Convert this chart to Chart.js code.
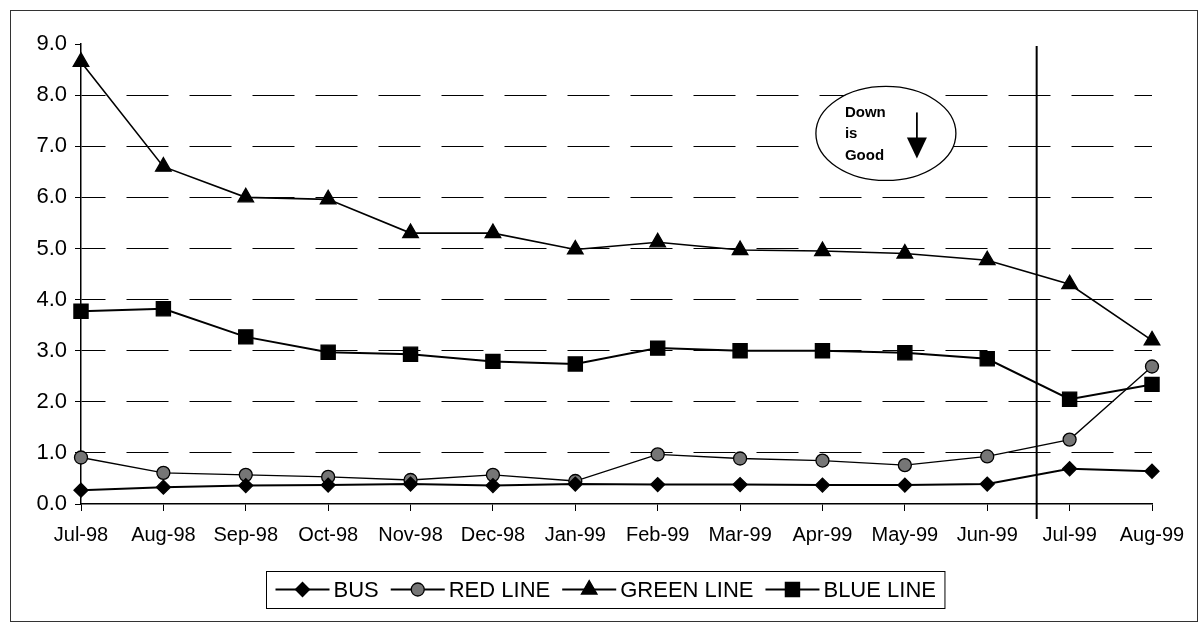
<!DOCTYPE html>
<html>
<head>
<meta charset="utf-8">
<title>Monthly rate by line, Jul-98 to Aug-99</title>
<script src="https://cdn.jsdelivr.net/npm/chart.js@4.4.1/dist/chart.umd.min.js"></script>
<style>
  html, body { margin: 0; padding: 0; background: #fff; }
  #wrap { position: relative; width: 1203px; height: 630px; overflow: hidden; }
  #frame { position: absolute; left: 10px; top: 10px; width: 1188px; height: 612px;
           border: 1px solid #333; box-sizing: border-box; }
  #chart { position: absolute; left: 0; top: 0; }
</style>
</head>
<body>
<div id="wrap">
  <div id="frame"></div>
  <canvas id="chart" width="1203" height="630"></canvas>
</div>
<script>
// Months on the x axis
const categories = ['Jul-98', 'Aug-98', 'Sep-98', 'Oct-98', 'Nov-98', 'Dec-98', 'Jan-99',
                    'Feb-99', 'Mar-99', 'Apr-99', 'May-99', 'Jun-99', 'Jul-99', 'Aug-99'];

// Series values, one per month
const busValues       = [0.27, 0.33, 0.36, 0.37, 0.39, 0.36, 0.39, 0.38, 0.38, 0.37, 0.37, 0.39, 0.69, 0.64];
const redLineValues   = [0.91, 0.61, 0.57, 0.53, 0.47, 0.57, 0.45, 0.97, 0.89, 0.85, 0.76, 0.93, 1.26, 2.69];
const greenLineValues = [8.65, 6.60, 6.00, 5.96, 5.30, 5.30, 4.98, 5.12, 4.97, 4.95, 4.90, 4.77, 4.30, 3.20];
const blueLineValues  = [3.77, 3.82, 3.27, 2.97, 2.93, 2.79, 2.74, 3.05, 3.00, 3.00, 2.96, 2.84, 2.05, 2.34];

// Value axis
const yTickValues = [0, 1, 2, 3, 4, 5, 6, 7, 8, 9];

// Divider between Jun-99 and Jul-99 (category position)
const splitAt = 11.6;
// "Down is Good" note, anchored in axis units
const noteAt = { index: 9.77, value: 7.25 };
const noteLines = ['Down', 'is', 'Good'];

const FONT = "'Liberation Sans', Arial, Helvetica, sans-serif";
Chart.defaults.font.family = FONT;
Chart.defaults.color = '#000';

const yMin = yTickValues[0];
const yMax = yTickValues[yTickValues.length - 1];

// Vertical divider line
const dividerPlugin = {
  id: 'divider',
  afterDatasetsDraw(chart) {
    const { ctx, scales: { x, y } } = chart;
    const px = x.getPixelForValue(splitAt);
    ctx.save();
    ctx.strokeStyle = '#000';
    ctx.lineWidth = 2;
    ctx.beginPath();
    ctx.moveTo(px, y.getPixelForValue(yMax) + 2);
    ctx.lineTo(px, y.bottom + 15);
    ctx.stroke();
    ctx.restore();
  }
};

// Oval callout with a down arrow
const notePlugin = {
  id: 'note',
  afterDatasetsDraw(chart) {
    const { ctx, scales: { x, y } } = chart;
    const cx = x.getPixelForValue(noteAt.index);
    const cy = y.getPixelForValue(noteAt.value);
    ctx.save();
    ctx.beginPath();
    ctx.ellipse(cx, cy, 70, 47, 0, 0, Math.PI * 2);
    ctx.fillStyle = '#fff';
    ctx.fill();
    ctx.lineWidth = 1.3;
    ctx.strokeStyle = '#000';
    ctx.stroke();

    ctx.fillStyle = '#000';
    ctx.font = 'bold 15px ' + FONT;
    ctx.textAlign = 'left';
    ctx.textBaseline = 'middle';
    noteLines.forEach((t, i) => ctx.fillText(t, cx - 41, cy - 21 + i * 21.5));

    // arrow
    const ax = cx + 31;
    ctx.lineWidth = 1.8;
    ctx.beginPath();
    ctx.moveTo(ax, cy - 21);
    ctx.lineTo(ax, cy + 6);
    ctx.stroke();
    ctx.beginPath();
    ctx.moveTo(ax - 10, cy + 4);
    ctx.lineTo(ax + 10, cy + 4);
    ctx.lineTo(ax, cy + 25);
    ctx.closePath();
    ctx.fill();
    ctx.restore();
  }
};

// Boxed legend drawn beneath the axis: line sample with marker, then label
const boxLegendPlugin = {
  id: 'boxLegend',
  afterDraw(chart) {
    const { ctx } = chart;
    const sets = chart.data.datasets;
    const symW = 54, symGap = 4, itemGap = 12, pad = 9;
    ctx.save();
    ctx.font = '22px ' + FONT;
    const widths = sets.map(ds => ctx.measureText(ds.label).width);
    let total = pad * 2 + (sets.length - 1) * itemGap;
    widths.forEach(w => { total += symW + symGap + w; });
    const boxTop = 571, boxH = 37;
    const left = Math.round(605 - total / 2) + 0.5;
    ctx.fillStyle = '#fff';
    ctx.fillRect(left, boxTop, total, boxH);
    ctx.strokeStyle = '#000';
    ctx.lineWidth = 1;
    ctx.strokeRect(left, boxTop + 0.5, total, boxH);

    const cy = boxTop + boxH / 2;
    let cursor = left + pad;
    sets.forEach((ds, i) => {
      ctx.strokeStyle = ds.borderColor;
      ctx.lineWidth = 2;
      ctx.beginPath();
      ctx.moveTo(cursor, cy);
      ctx.lineTo(cursor + symW, cy);
      ctx.stroke();
      ctx.fillStyle = ds.pointBackgroundColor;
      ctx.strokeStyle = ds.pointBorderColor;
      ctx.lineWidth = ds.pointBorderWidth;
      Chart.helpers.drawPoint(ctx, {
        pointStyle: ds.pointStyle, radius: ds.pointRadius, rotation: 0, borderWidth: ds.pointBorderWidth
      }, cursor + symW / 2, cy);
      cursor += symW + symGap;
      ctx.fillStyle = '#000';
      ctx.textAlign = 'left';
      ctx.textBaseline = 'middle';
      ctx.fillText(ds.label, cursor, cy + 1);
      cursor += widths[i] + itemGap;
    });
    ctx.restore();
  }
};

function lineSeries(label, data, style, radius, width, fill) {
  return {
    label, data,
    borderColor: '#000',
    borderWidth: width,
    pointStyle: style,
    pointRadius: radius,
    pointHoverRadius: radius,
    pointBackgroundColor: fill || '#000',
    pointBorderColor: '#000',
    pointBorderWidth: 1.3,
    tension: 0,
    fill: false,
    clip: false
  };
}

new Chart(document.getElementById('chart'), {
  type: 'line',
  data: {
    labels: categories,
    datasets: [
      lineSeries('BUS', busValues, 'rectRot', 7, 2),
      lineSeries('RED LINE', redLineValues, 'circle', 6.5, 1.3, '#767676'),
      lineSeries('GREEN LINE', greenLineValues, 'triangle', 9, 1.6),
      lineSeries('BLUE LINE', blueLineValues, 'rect', 10, 2)
    ]
  },
  options: {
    responsive: false,
    animation: false,
    events: [],
    layout: { padding: { left: 0, right: 51, top: 44, bottom: 76 } },
    plugins: { legend: { display: false }, tooltip: { enabled: false } },
    scales: {
      x: {
        type: 'category',
        offset: false,
        grid: { display: true, drawOnChartArea: false, drawTicks: true, tickLength: 7, color: '#000', lineWidth: 1 },
        border: { display: true, color: '#000', width: 1.5 },
        ticks: { font: { size: 20 }, color: '#000', maxRotation: 0, minRotation: 0, autoSkip: false, padding: 12 },
        afterFit(scale) { scale.height = 50; }
      },
      y: {
        min: yMin,
        max: yMax,
        afterBuildTicks(scale) { scale.ticks = yTickValues.map(v => ({ value: v })); },
        grid: {
          color: c => (c.tick && (c.tick.value === yMin || c.tick.value === yMax)) ? 'rgba(0,0,0,0)' : '#000',
          tickColor: '#000',
          tickLength: 6,
          lineWidth: 1
        },
        border: { display: true, color: '#000', width: 1.5, dash: [42, 21], dashOffset: 18 },
        ticks: { font: { size: 22 }, color: '#000', padding: 8, callback: v => Number(v).toFixed(1) },
        afterFit(scale) { scale.width = 81; }
      }
    }
  },
  plugins: [dividerPlugin, notePlugin, boxLegendPlugin]
});
</script>
</body>
</html>
